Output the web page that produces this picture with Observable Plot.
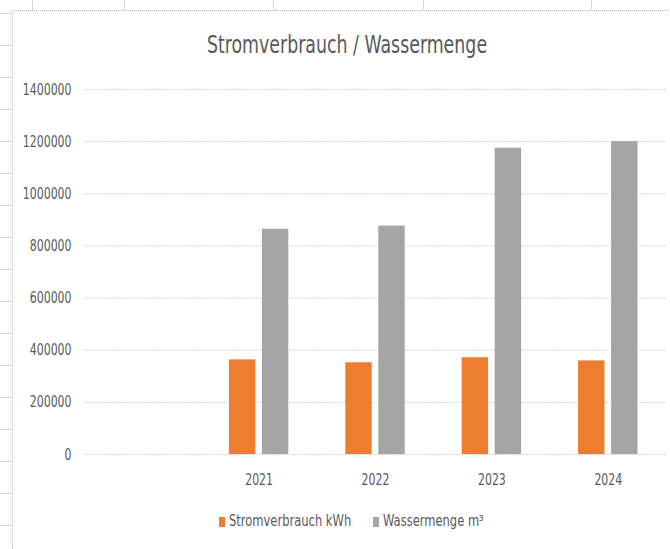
<!DOCTYPE html>
<html>
<head>
<meta charset="utf-8">
<script src="https://cdn.jsdelivr.net/npm/d3@7"></script>
<script src="https://cdn.jsdelivr.net/npm/@observablehq/plot@0.6"></script>
<style>
  html, body { margin: 0; padding: 0; background: #fff; }
  #wrap { position: relative; width: 670px; height: 549px; overflow: hidden; background: #fff;
    font-family: "Liberation Sans Narrow", "DejaVu Sans Condensed", "Arial Narrow", sans-serif; }
  #cells-left { position: absolute; left: 0; top: 0; width: 12px; height: 549px;
    background: repeating-linear-gradient(to bottom, transparent 0px, transparent 13px, #d6d6d6 13px, #d6d6d6 14px, transparent 14px, transparent 32px);
    background-position: 0 0; }
  .vcell { position: absolute; top: 0; width: 1px; height: 10px; background: #d6d6d6; }
  #chart { position: absolute; left: 12px; top: 10px; width: 700px; height: 600px; background: #fff;
    border-left: 1px dotted #bdbdbd; border-top: 1px dotted #bdbdbd; }
  #title { position: absolute; left: 0; width: 694px; top: 33px; text-align: center; font-size: 24px; line-height: 24px;
    color: #595959; white-space: nowrap; transform: scaleX(0.805); transform-origin: 347px 0; }
  #plot { position: absolute; left: 0; top: 70px; }
  #legend { position: absolute; left: 0; top: 0; width: 670px; height: 549px; font-size: 16px; line-height: 18px; color: #595959; }
  .sw { position: absolute; width: 6px; height: 10px; top: 517px; }
  .lt { position: absolute; top: 512px; white-space: nowrap; transform: scaleX(0.8); transform-origin: 0 0; }
</style>
</head>
<body>
<div id="wrap">
  <div id="cells-left"></div>
  <div class="vcell" style="left:32px"></div>
  <div class="vcell" style="left:124px"></div>
  <div class="vcell" style="left:273px"></div>
  <div class="vcell" style="left:423px"></div>
  <div class="vcell" style="left:591px"></div>
  <div id="chart"></div>
  <div id="title">Stromverbrauch / Wassermenge</div>
  <div id="plot"></div>
  <div id="legend"></div>
</div>
<script>
// ---- data ----
const years = ["2021", "2022", "2023", "2024"];
const categories = ["", "2021", "2022", "2023", "2024"];
const stromKWh = [363000, 352000, 371000, 359000];
const wasserM3 = [864000, 876000, 1175000, 1200000];
const yTicks = [0, 200000, 400000, 600000, 800000, 1000000, 1200000, 1400000];
const seriesNames = ["Stromverbrauch kWh", "Wassermenge m³"];
const seriesColors = ["#ED7D31", "#A5A5A5"];

const rows = years.map((y, i) => ({year: y, strom: stromKWh[i], wasser: wasserM3[i]}));

const W = 670, H = 430;
const barInset = 45;

const chart = Plot.plot({
  width: W,
  height: H,
  marginLeft: 84,
  marginRight: 4,
  marginTop: 19,
  marginBottom: 46,
  style: {
    fontFamily: '"Liberation Sans Narrow", "DejaVu Sans Condensed", "Arial Narrow", sans-serif',
    fontSize: "16px",
    color: "#595959",
    background: "transparent",
    overflow: "visible"
  },
  x: {type: "band", domain: categories, padding: 0, round: false, label: null},
  y: {domain: [0, 1400000], label: null},
  marks: [
    Plot.ruleY(yTicks, {stroke: "#d0d0d0", strokeWidth: 1, strokeDasharray: "1.5,1"}),
    Plot.barY(rows, {x: "year", y: "strom", fill: seriesColors[0], insetLeft: barInset, insetRight: barInset, dx: -16.5}),
    Plot.barY(rows, {x: "year", y: "wasser", fill: seriesColors[1], insetLeft: barInset, insetRight: barInset, dx: 16.5}),
    Plot.axisX({tickSize: 0, tickPadding: 19, label: null, fill: "#595959"}),
    Plot.axisY({ticks: yTicks, tickSize: 0, tickPadding: 13, tickFormat: d => String(d), label: null, fill: "#595959"})
  ]
});
document.getElementById("plot").appendChild(chart);

// condense axis text to match the narrow original typeface
chart.querySelectorAll("text").forEach(t => {
  const len = t.getComputedTextLength();
  if (len > 0) {
    t.setAttribute("textLength", (len * 0.76).toFixed(2));
    t.setAttribute("lengthAdjust", "spacingAndGlyphs");
  }
});

const legend = document.getElementById("legend");
const legendSwatchX = [219, 373];
const legendTextX = [229, 383];
seriesNames.forEach((name, i) => {
  const sw = document.createElement("div");
  sw.className = "sw";
  sw.style.left = legendSwatchX[i] + "px";
  sw.style.background = seriesColors[i];
  const t = document.createElement("div");
  t.className = "lt";
  t.style.left = legendTextX[i] + "px";
  t.textContent = name;
  legend.appendChild(sw);
  legend.appendChild(t);
});
</script>
</body>
</html>
